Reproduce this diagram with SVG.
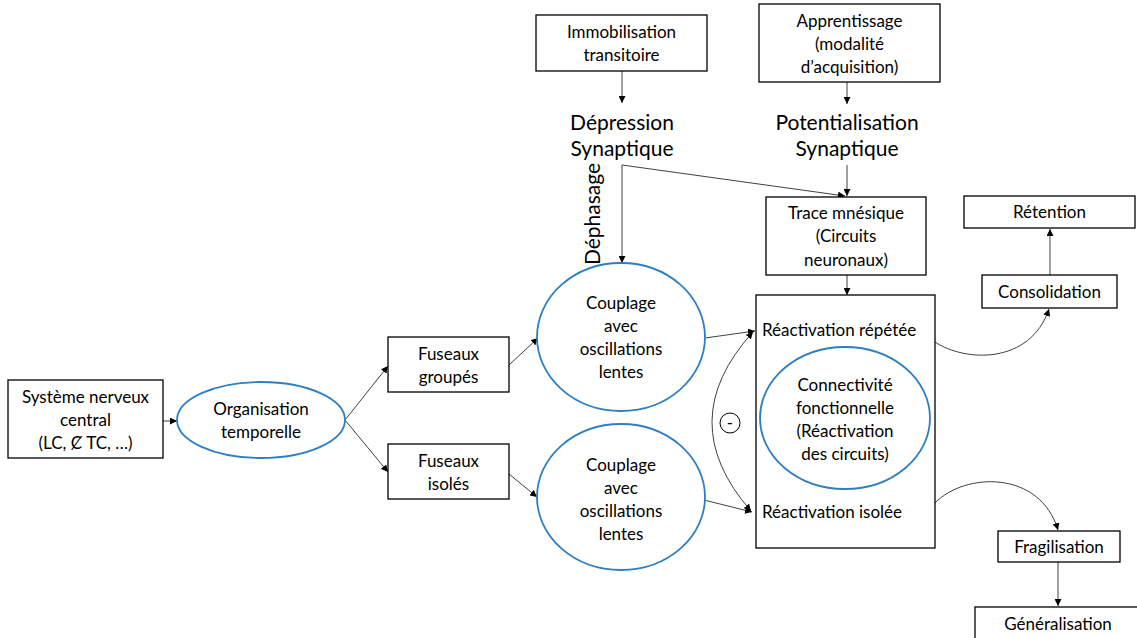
<svg xmlns="http://www.w3.org/2000/svg" width="1137" height="638" viewBox="0 0 1137 638">
<defs>
<marker id="ah" viewBox="0 0 10 10" refX="10" refY="5" markerWidth="7" markerHeight="7" markerUnits="userSpaceOnUse" orient="auto-start-reverse">
<path d="M0,0 L10,5 L0,10 z" fill="#000"/>
</marker>
<style>
.box{fill:#fff;stroke:#000;stroke-width:1.3}
.ell{fill:#fff;stroke:#2e7fc1;stroke-width:1.8}
.t{font-family:Lato,"Liberation Sans",sans-serif;font-size:17px;fill:#000;text-anchor:middle}
.tl{font-family:Lato,"Liberation Sans",sans-serif;font-size:17px;fill:#000}
.big{font-family:Lato,"Liberation Sans",sans-serif;font-size:21px;fill:#000;text-anchor:middle}
.c{fill:none;stroke:#404040;stroke-width:1}
.ca{fill:none;stroke:#404040;stroke-width:1;marker-end:url(#ah)}
</style>
</defs>
<rect width="1137" height="638" fill="#fff"/>

<g id="connectors">
<line class="ca" x1="163" y1="421" x2="177" y2="421"/>
<line class="ca" x1="345" y1="420" x2="388" y2="366"/>
<line class="ca" x1="345" y1="420" x2="388" y2="472"/>
<line class="ca" x1="509" y1="365" x2="538" y2="338"/>
<line class="ca" x1="509" y1="474" x2="537" y2="497"/>
<line class="ca" x1="705" y1="338" x2="755" y2="331"/>
<line class="ca" x1="704" y1="500" x2="752" y2="512"/>
<line class="ca" x1="622" y1="71" x2="622" y2="103"/>
<line class="ca" x1="847" y1="82" x2="847" y2="104"/>
<line class="c" x1="622" y1="165" x2="622" y2="262"/>
<line class="ca" x1="622" y1="262" x2="622" y2="263"/>
<line class="ca" x1="622" y1="165" x2="845" y2="196"/>
<line class="ca" x1="847" y1="165" x2="847" y2="196"/>
<line class="ca" x1="847" y1="275" x2="847" y2="295"/>
<path d="M753 332 Q672 421 751 511" fill="none" stroke="#404040" stroke-width="1" marker-start="url(#ah)" marker-end="url(#ah)"/>
<path class="ca" d="M935 342 C965 362 1030 365 1049 309"/>
<path class="ca" d="M935 503 C965 472 1040 470 1058 530"/>
<line class="ca" x1="1050" y1="275" x2="1050" y2="229"/>
<line class="ca" x1="1058" y1="562" x2="1058" y2="606"/>
<circle cx="730" cy="423" r="10" fill="#fff" stroke="#000" stroke-width="1"/>
<text class="t" x="730" y="429">-</text>
</g>

<g id="snc">
<rect class="box" x="8" y="380" width="155" height="78"/>
<text class="t" x="85.5" y="403">Système nerveux</text>
<text class="t" x="85.5" y="426">central</text>
<text class="t" x="85.5" y="449">(LC, Ȼ TC, …)</text>
</g>

<g id="organisation">
<ellipse class="ell" cx="261" cy="420" rx="84" ry="38"/>
<text class="t" x="261" y="415">Organisation</text>
<text class="t" x="261" y="438">temporelle</text>
</g>

<g id="fuseaux-groupes">
<rect class="box" x="388" y="337" width="121" height="55"/>
<text class="t" x="448.5" y="360">Fuseaux</text>
<text class="t" x="448.5" y="383">groupés</text>
</g>

<g id="fuseaux-isoles">
<rect class="box" x="388" y="444" width="121" height="55"/>
<text class="t" x="448.5" y="467">Fuseaux</text>
<text class="t" x="448.5" y="490">isolés</text>
</g>

<g id="couplage-1">
<ellipse class="ell" cx="621" cy="337" rx="84" ry="74"/>
<text class="t" x="621" y="309">Couplage</text>
<text class="t" x="621" y="332">avec</text>
<text class="t" x="621" y="355">oscillations</text>
<text class="t" x="621" y="378">lentes</text>
</g>

<g id="couplage-2">
<ellipse class="ell" cx="621" cy="497" rx="84" ry="73"/>
<text class="t" x="621" y="471">Couplage</text>
<text class="t" x="621" y="494">avec</text>
<text class="t" x="621" y="517">oscillations</text>
<text class="t" x="621" y="540">lentes</text>
</g>

<g id="immobilisation">
<rect class="box" x="536" y="15" width="171" height="56"/>
<text class="t" x="621.5" y="38">Immobilisation</text>
<text class="t" x="621.5" y="61">transitoire</text>
</g>

<g id="apprentissage">
<rect class="box" x="759" y="4" width="181" height="78"/>
<text class="t" x="849.5" y="27">Apprentissage</text>
<text class="t" x="849.5" y="50">(modalité</text>
<text class="t" x="849.5" y="73">d’acquisition)</text>
</g>

<g id="depression">
<text class="big" x="622" y="130">Dépression</text>
<text class="big" x="622" y="156">Synaptique</text>
</g>

<g id="potentialisation">
<text class="big" x="847" y="130">Potentialisation</text>
<text class="big" x="847" y="156">Synaptique</text>
</g>

<g id="dephasage">
<text class="big" transform="translate(600 214) rotate(-90)" x="0" y="0">Déphasage</text>
</g>

<g id="trace">
<rect class="box" x="766" y="197" width="160" height="78"/>
<text class="t" x="846" y="219">Trace mnésique</text>
<text class="t" x="846" y="242">(Circuits</text>
<text class="t" x="846" y="266">neuronaux)</text>
</g>

<g id="reactivation">
<rect class="box" x="756" y="295" width="179" height="253"/>
<text class="tl" x="762" y="336">Réactivation répétée</text>
<text class="tl" x="762" y="518">Réactivation isolée</text>
</g>

<g id="connectivite">
<ellipse class="ell" cx="845" cy="418" rx="85" ry="71"/>
<text class="t" x="845" y="391">Connectivité</text>
<text class="t" x="845" y="414">fonctionnelle</text>
<text class="t" x="845" y="437">(Réactivation</text>
<text class="t" x="845" y="460">des circuits)</text>
</g>

<g id="retention">
<rect class="box" x="964" y="196" width="171" height="32"/>
<text class="t" x="1049.5" y="218">Rétention</text>
</g>

<g id="consolidation">
<rect class="box" x="982" y="275" width="135" height="33"/>
<text class="t" x="1049.5" y="298">Consolidation</text>
</g>

<g id="fragilisation">
<rect class="box" x="998" y="531" width="122" height="31"/>
<text class="t" x="1059" y="553">Fragilisation</text>
</g>

<g id="generalisation">
<rect class="box" x="975" y="607" width="170" height="40"/>
<text class="t" x="1058" y="630">Généralisation</text>
</g>
</svg>
